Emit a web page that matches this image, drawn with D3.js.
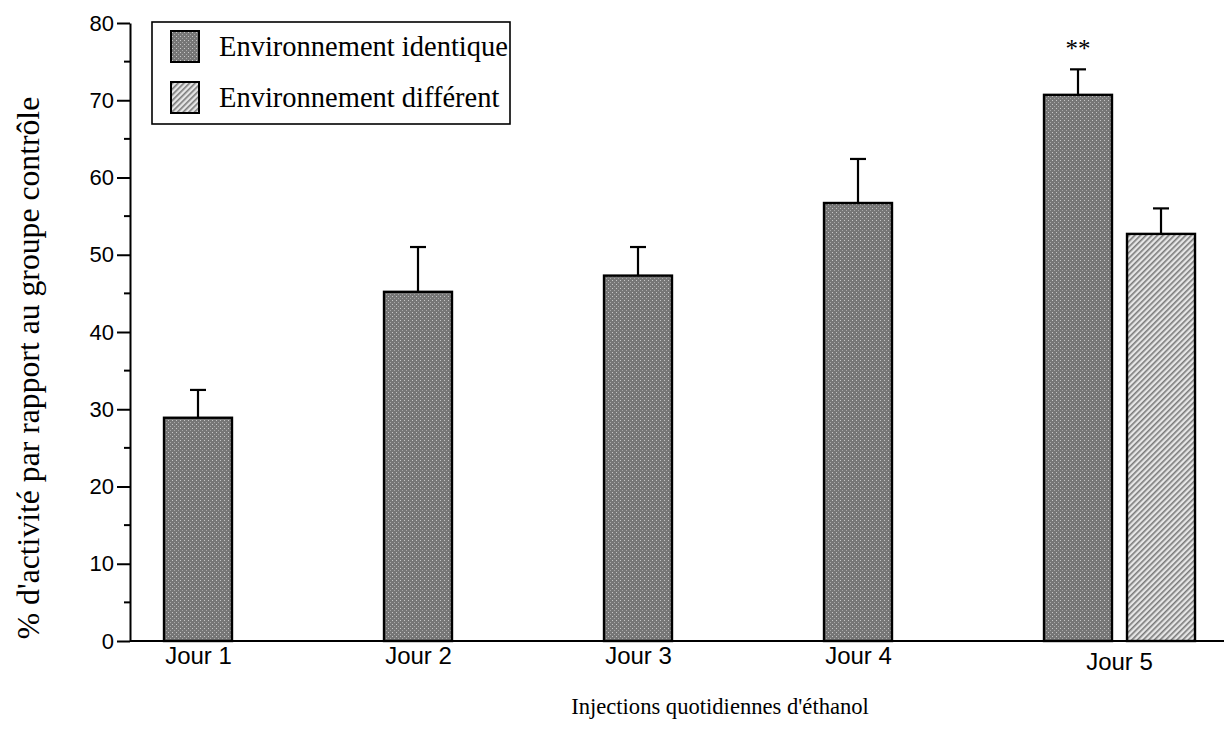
<!DOCTYPE html>
<html>
<head>
<meta charset="utf-8">
<script src="https://cdn.jsdelivr.net/npm/d3@7"></script>
<style>
    body { margin: 0; background: #fff; }
    .tick text { font-family: "Liberation Sans", Arial, sans-serif; }
    .serif { font-family: "Liberation Serif", "Times New Roman", serif; }
</style>
</head>
<body>
<div id="chart"></div>
<script>
    const days = ["Jour 1", "Jour 2", "Jour 3", "Jour 4", "Jour 5"];
    const series = ["Environnement identique", "Environnement différent"];
    const identique = [28.9, 45.2, 47.3, 56.7, 70.7];
    const identiqueErr = [3.6, 5.8, 3.7, 5.7, 3.3];
    const different = [null, null, null, null, 52.7];
    const differentErr = [null, null, null, null, 3.3];
    const yTicks = [0, 10, 20, 30, 40, 50, 60, 70, 80];
    const yMinor = [5, 15, 25, 35, 45, 55, 65, 75];
    const stars = ["", "", "", "", "**"];

    const width = 1224, height = 742;

    const svg = d3.select("#chart")
        .append("svg")
        .attr("width", width)
        .attr("height", height);

    const defs = svg.append("defs");
    const p1 = defs.append("pattern")
        .attr("id", "dots")
        .attr("width", 4).attr("height", 4)
        .attr("patternUnits", "userSpaceOnUse");
    p1.append("rect").attr("width", 4).attr("height", 4).attr("fill", "#767676");
    p1.append("rect").attr("x", 0).attr("y", 0).attr("width", 1).attr("height", 1).attr("fill", "#c8c8c8");
    p1.append("rect").attr("x", 2).attr("y", 2).attr("width", 1).attr("height", 1).attr("fill", "#a8a8a8");

    const p2 = defs.append("pattern")
        .attr("id", "hatch")
        .attr("width", 4).attr("height", 4)
        .attr("patternUnits", "userSpaceOnUse")
        .attr("patternTransform", "rotate(45)");
    p2.append("rect").attr("width", 4).attr("height", 4).attr("fill", "#e6e6e6");
    p2.append("rect").attr("x", 0).attr("y", 0).attr("width", 1.6).attr("height", 4).attr("fill", "#7a7a7a");

    const fills = ["url(#dots)", "url(#hatch)"];

    const y = d3.scaleLinear().domain([0, 80]).range([641, 23]);
    const x = d3.scalePoint().domain(days).range([198, 1078]);
    const x1 = d3.scaleBand().domain(series).range([0, 151]).paddingInner(0.181);
    const bw = x1.bandwidth();

    const rows = [];
    days.forEach((d, i) => {
        rows.push({ day: d, s: series[0], v: identique[i], e: identiqueErr[i] });
        if (different[i] != null) rows.push({ day: d, s: series[1], v: different[i], e: differentErr[i] });
    });
    const bx = d => x(d.day) - bw / 2 + x1(d.s);

    // error bars
    const eb = svg.append("g").attr("stroke", "#000").attr("stroke-width", 2.2);
    rows.forEach(d => {
        const cx = bx(d) + bw / 2;
        eb.append("line").attr("x1", cx).attr("x2", cx).attr("y1", y(d.v)).attr("y2", y(d.v + d.e));
        eb.append("line").attr("x1", cx - 8).attr("x2", cx + 8).attr("y1", y(d.v + d.e)).attr("y2", y(d.v + d.e));
    });

    svg.selectAll(".bar")
        .data(rows)
        .enter().append("rect")
        .attr("class", "bar")
        .attr("x", bx)
        .attr("y", d => y(d.v))
        .attr("width", bw)
        .attr("height", d => y(0) - y(d.v))
        .attr("fill", d => fills[series.indexOf(d.s)])
        .attr("stroke", "#000")
        .attr("stroke-width", 2.4);

    // significance
    days.forEach((d, i) => {
        if (!stars[i]) return;
        svg.append("text").attr("class", "serif")
            .attr("x", x(d)).attr("y", y(identique[i] + identiqueErr[i]) - 12)
            .attr("text-anchor", "middle").attr("font-size", 25).attr("fill", "#000")
            .text(stars[i]);
    });

    // y axis
    const yAxis = svg.append("g")
        .attr("transform", "translate(130,0)")
        .call(d3.axisLeft(y).tickValues(yTicks).tickSize(13).tickSizeOuter(0).tickPadding(3));
    yAxis.selectAll("text").attr("font-size", 22).attr("fill", "#000");
    yAxis.selectAll("line, path").attr("stroke", "#000").attr("stroke-width", 2);
    yAxis.selectAll(".minor")
        .data(yMinor).enter().append("line")
        .attr("class", "minor")
        .attr("x1", -6).attr("x2", 0)
        .attr("y1", d => y(d)).attr("y2", d => y(d))
        .attr("stroke", "#000").attr("stroke-width", 2);

    // x axis
    svg.append("line")
        .attr("x1", 130).attr("x2", width)
        .attr("y1", y(0)).attr("y2", y(0))
        .attr("stroke", "#000").attr("stroke-width", 2);
    const xAxis = svg.append("g")
        .attr("transform", `translate(0,${y(0)})`)
        .call(d3.axisBottom(x).tickSize(0).tickPadding(6));
    xAxis.select(".domain").remove();
    xAxis.selectAll("text").attr("font-size", 24).attr("fill", "#000");
    const groupMid = (x1(series[1]) + bw) / 2 - bw / 2;
    xAxis.selectAll(".tick")
        .filter(d => d === "Jour 5")
        .attr("transform", `translate(${x("Jour 5") + groupMid},6)`);

    // axis titles
    svg.append("text").attr("class", "serif")
        .attr("x", 720).attr("y", 714)
        .attr("text-anchor", "middle").attr("font-size", 22.6)
        .text("Injections quotidiennes d'éthanol");
    svg.append("text").attr("class", "serif")
        .attr("transform", "translate(39,368) rotate(-90)")
        .attr("text-anchor", "middle").attr("font-size", 31.7)
        .text("% d'activité par rapport au groupe contrôle");

    // legend
    const lg = svg.append("g");
    lg.append("rect").attr("x", 152).attr("y", 22).attr("width", 358).attr("height", 102)
        .attr("fill", "#fff").attr("stroke", "#000").attr("stroke-width", 1.6);
    series.forEach((s, i) => {
        lg.append("rect").attr("x", 171).attr("y", 31 + i * 51).attr("width", 28).attr("height", 31)
            .attr("fill", fills[i]).attr("stroke", "#000").attr("stroke-width", 2);
        lg.append("text").attr("class", "serif")
            .attr("x", 219).attr("y", 56 + i * 51)
            .attr("font-size", 28.5)
            .text(s);
    });
</script>
</body>
</html>
